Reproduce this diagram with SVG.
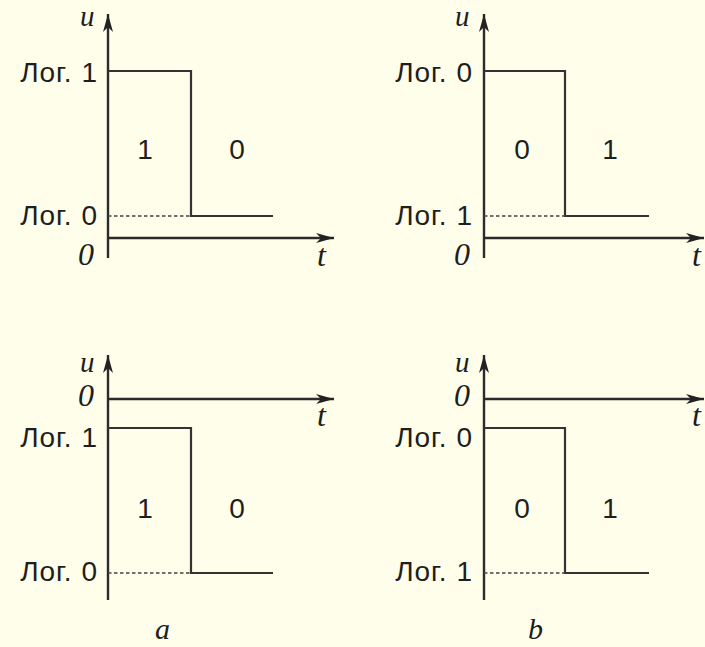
<svg xmlns="http://www.w3.org/2000/svg" width="705" height="647" viewBox="0 0 705 647">
<style>
.ax{stroke:#2b2b2b;stroke-width:2.4;fill:none}
.sig{stroke:#333;stroke-width:2.2;fill:none}
.dash{stroke:#444;stroke-width:1.3;stroke-dasharray:3.5,2.5;fill:none}
.lbl{font-family:"Liberation Sans",Arial,sans-serif;font-size:28px;letter-spacing:1px;fill:#1e1e1e;text-anchor:end}
.bit{font-family:"Liberation Sans",Arial,sans-serif;font-size:28px;fill:#1e1e1e;text-anchor:middle}
.it{font-family:"Liberation Serif","Times New Roman",serif;font-style:italic;font-size:32px;fill:#1e1e1e}
.iu{font-family:"Liberation Serif","Times New Roman",serif;font-style:italic;font-size:29px;fill:#1e1e1e}
.cap{font-family:"Liberation Serif","Times New Roman",serif;font-style:italic;font-size:30px;fill:#1e1e1e}
</style>
<defs>
<marker id="arr" viewBox="0 0 18 10" refX="18" refY="5" markerWidth="18" markerHeight="10" markerUnits="userSpaceOnUse" orient="auto">
<path d="M0,0 L18,5 L0,10 L5,5 Z" fill="#222"/>
</marker>
</defs>
<rect width="705" height="647" fill="#FFFEEA"/>

<g id="panel-a-top">
<line class="ax" x1="108" y1="258" x2="108" y2="14" marker-end="url(#arr)"/>
<line class="ax" x1="108" y1="238" x2="334" y2="238" marker-end="url(#arr)"/>
<polyline class="sig" points="108,71 191,71 191,216 273,216"/>
<line class="dash" x1="108" y1="216" x2="191" y2="216"/>
<text class="lbl" x="98" y="82">Лог. 1</text>
<text class="lbl" x="98" y="225">Лог. 0</text>
<text class="bit" x="145" y="159">1</text>
<text class="bit" x="237" y="159">0</text>
<text class="iu" x="80" y="26">u</text>
<text class="it" x="78" y="265">0</text>
<text class="it" x="317" y="266">t</text>
</g>

<g id="panel-b-top">
<line class="ax" x1="484" y1="258" x2="484" y2="14" marker-end="url(#arr)"/>
<line class="ax" x1="484" y1="238" x2="704" y2="238" marker-end="url(#arr)"/>
<polyline class="sig" points="484,71 565,71 565,216 649,216"/>
<line class="dash" x1="484" y1="216" x2="565" y2="216"/>
<text class="lbl" x="473" y="82">Лог. 0</text>
<text class="lbl" x="473" y="225">Лог. 1</text>
<text class="bit" x="522" y="159">0</text>
<text class="bit" x="610" y="159">1</text>
<text class="iu" x="455" y="26">u</text>
<text class="it" x="454" y="265">0</text>
<text class="it" x="692" y="266">t</text>
</g>

<g id="panel-a-bottom">
<line class="ax" x1="108" y1="600" x2="108" y2="355" marker-end="url(#arr)"/>
<line class="ax" x1="108" y1="399" x2="334" y2="399" marker-end="url(#arr)"/>
<polyline class="sig" points="108,428 191,428 191,573 273,573"/>
<line class="dash" x1="108" y1="573" x2="191" y2="573"/>
<text class="lbl" x="98" y="447">Лог. 1</text>
<text class="lbl" x="98" y="581">Лог. 0</text>
<text class="bit" x="145" y="518">1</text>
<text class="bit" x="237" y="518">0</text>
<text class="iu" x="80" y="372">u</text>
<text class="it" x="78" y="406">0</text>
<text class="it" x="317" y="426">t</text>
<text class="cap" x="155" y="639">a</text>
</g>

<g id="panel-b-bottom">
<line class="ax" x1="484" y1="600" x2="484" y2="355" marker-end="url(#arr)"/>
<line class="ax" x1="484" y1="399" x2="704" y2="399" marker-end="url(#arr)"/>
<polyline class="sig" points="484,428 565,428 565,573 649,573"/>
<line class="dash" x1="484" y1="573" x2="565" y2="573"/>
<text class="lbl" x="473" y="447">Лог. 0</text>
<text class="lbl" x="473" y="581">Лог. 1</text>
<text class="bit" x="522" y="518">0</text>
<text class="bit" x="610" y="518">1</text>
<text class="iu" x="455" y="372">u</text>
<text class="it" x="454" y="406">0</text>
<text class="it" x="692" y="426">t</text>
<text class="cap" x="528" y="639">b</text>
</g>
</svg>
